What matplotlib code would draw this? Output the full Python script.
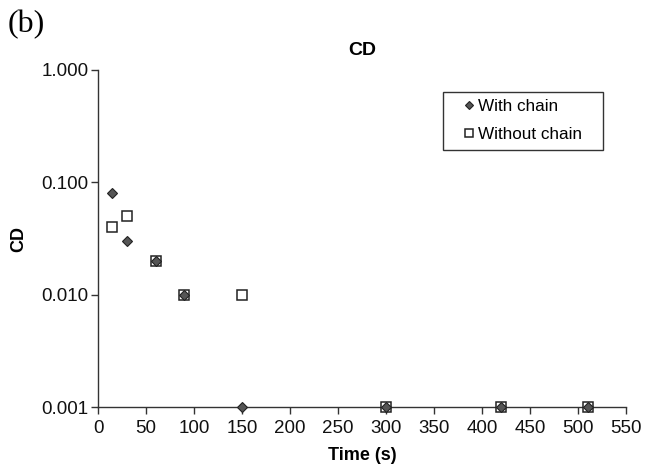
import matplotlib
matplotlib.use("Agg")
import matplotlib.pyplot as plt
from matplotlib.ticker import FixedLocator, FixedFormatter, NullLocator
from matplotlib.patches import Rectangle

time_with = [15, 30, 60, 90, 150, 300, 420, 510]
cd_with = [0.08, 0.03, 0.02, 0.01, 0.001, 0.001, 0.001, 0.001]
time_without = [15, 30, 60, 90, 150, 300, 420, 510]
cd_without = [0.04, 0.05, 0.02, 0.01, 0.01, 0.001, 0.001, 0.001]
x_ticks = [0, 50, 100, 150, 200, 250, 300, 350, 400, 450, 500, 550]
y_ticks = [0.001, 0.01, 0.1, 1.0]
y_labels = ["0.001", "0.010", "0.100", "1.000"]

plt.rcParams['font.family'] = ['Liberation Sans', 'DejaVu Sans']

fig = plt.figure(figsize=(6.46, 4.65), dpi=100)
ax = fig.add_axes([98/646, 1-407/465, (626-98)/646, (407-70)/465])

ax.plot(time_without, cd_without, linestyle='none', marker='s', markersize=6.5,
        markerfacecolor='white', markeredgecolor='#222222', markeredgewidth=1.1,
        label='Without chain', zorder=3, clip_on=False)
ax.plot(time_with, cd_with, linestyle='none', marker='D', markersize=4.8,
        markerfacecolor='#555555', markeredgecolor='#222222', markeredgewidth=0.8,
        label='With chain', zorder=4, clip_on=False)

ax.set_yscale('log')
ax.set_xlim(0, 550)
ax.set_ylim(0.001, 1.0)
ax.xaxis.set_major_locator(FixedLocator(x_ticks))
ax.yaxis.set_major_locator(FixedLocator(y_ticks))
ax.yaxis.set_major_formatter(FixedFormatter(y_labels))
ax.yaxis.set_minor_locator(NullLocator())
ax.xaxis.set_minor_locator(NullLocator())

for s in ['top', 'right']:
    ax.spines[s].set_visible(False)
for s in ['left', 'bottom']:
    ax.spines[s].set_color('#333333')
    ax.spines[s].set_linewidth(1.0)
ax.tick_params(direction='out', length=5, width=1.0, color='#333333',
               labelsize=13.5, labelcolor='#111111')
ax.tick_params(axis='x', pad=4.5)
ax.tick_params(axis='y', pad=2)

ax.set_title('CD', fontsize=14, fontweight='bold', pad=11)
ax.set_xlabel('Time (s)', fontsize=13, fontweight='bold', labelpad=7)
ax.set_ylabel('CD', fontsize=13, fontweight='bold', labelpad=10)

handles, labels = ax.get_legend_handles_labels()
leg = ax.legend([handles[1], handles[0]], [labels[1], labels[0]],
                loc='upper left',
                bbox_to_anchor=(462/646, 1 - 99/465),
                bbox_transform=fig.transFigure,
                frameon=False, fontsize=12.3, handlelength=0.8,
                handletextpad=0.16, borderpad=0, labelspacing=0.78,
                borderaxespad=0, markerscale=0.85)
fig.add_artist(Rectangle((443/646, 1-150/465), 160/646, 58/465,
                         transform=fig.transFigure, fill=False,
                         edgecolor='#333333', linewidth=1.0))

fig.text(8/646, 1-32/465, '(b)', fontsize=23, family='Liberation Serif', va='baseline')

fig.savefig('out.png', dpi=100)
